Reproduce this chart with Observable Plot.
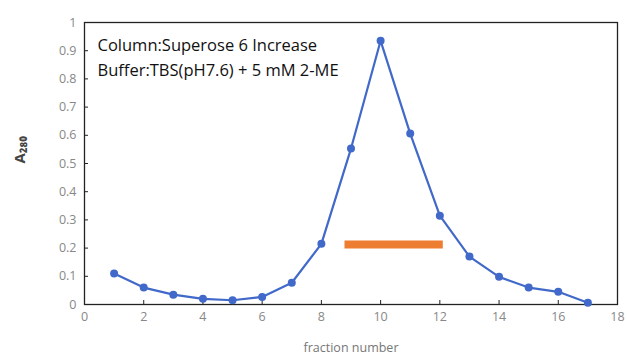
<!DOCTYPE html>
<html><head><meta charset="utf-8">
<script src="https://cdn.jsdelivr.net/npm/d3@7"></script>
<script src="https://cdn.jsdelivr.net/npm/@observablehq/plot@0.6"></script>
<style>body{margin:0;background:#fff;font-family:"Open Sans",sans-serif}</style>
</head><body><div id="chart"></div>
<script>
const fractions = [1,2,3,4,5,6,7,8,9,10,11,12,13,14,15,16,17];
const a280 = [0.11,0.06,0.035,0.02,0.015,0.027,0.077,0.215,0.553,0.935,0.606,0.315,0.17,0.098,0.06,0.045,0.006];
const poolStart = [8.78];
const poolEnd = [12.1];
const poolLevel = [0.213];
const xTicks = [0,2,4,6,8,10,12,14,16,18];
const yTicks = [0,0.1,0.2,0.3,0.4,0.5,0.6,0.7,0.8,0.9,1];
const notes = ["Column:Superose 6 Increase","Buffer:TBS(pH7.6) + 5 mM 2-ME"];

const pts = fractions.map((f,i)=>({f, a:a280[i]}));
const pool = poolStart.map((s,i)=>({x1:s,x2:poolEnd[i],y:poolLevel[i]}));

const blue = "#4169c9";
const plot = Plot.plot({
  width:627, height:358,
  marginLeft:84, marginRight:10, marginTop:22, marginBottom:54,
  style:{fontFamily:"'Open Sans',sans-serif", fontSize:"12.5px", background:"#fff"},
  x:{domain:[0,18]},
  y:{domain:[0,1]},
  marks:[
    Plot.frame({stroke:"#222", strokeWidth:1.3}),
    Plot.axisX({ticks:xTicks, tickSize:-4, tickPadding:12, fill:"#888", stroke:"#222", label:null}),
    Plot.axisY({ticks:yTicks, tickSize:-4, tickPadding:12, fill:"#888", stroke:"#222", tickFormat:d=>String(d), label:null}),
    Plot.text(["fraction number"], {frameAnchor:"bottom", dy:47, fill:"#777", fontSize:12.5}),
    Plot.text(["A₂₈₀"], {frameAnchor:"left", dx:-64, rotate:-90, fill:"#444", fontSize:15, fontWeight:"bold"}),
    Plot.link(pool, {x1:"x1", x2:"x2", y1:"y", y2:"y", stroke:"#ed7d31", strokeWidth:8}),
    Plot.line(pts, {x:"f", y:"a", stroke:blue, strokeWidth:2.2}),
    Plot.dot(pts, {x:"f", y:"a", fill:blue, r:4}),
    Plot.text([notes.join("\n")], {frameAnchor:"top-left", dx:13, dy:11, fontSize:16.5, fill:"#111", lineAnchor:"top", lineHeight:1.5})
  ]
});
document.getElementById("chart").append(plot);
</script></body></html>
